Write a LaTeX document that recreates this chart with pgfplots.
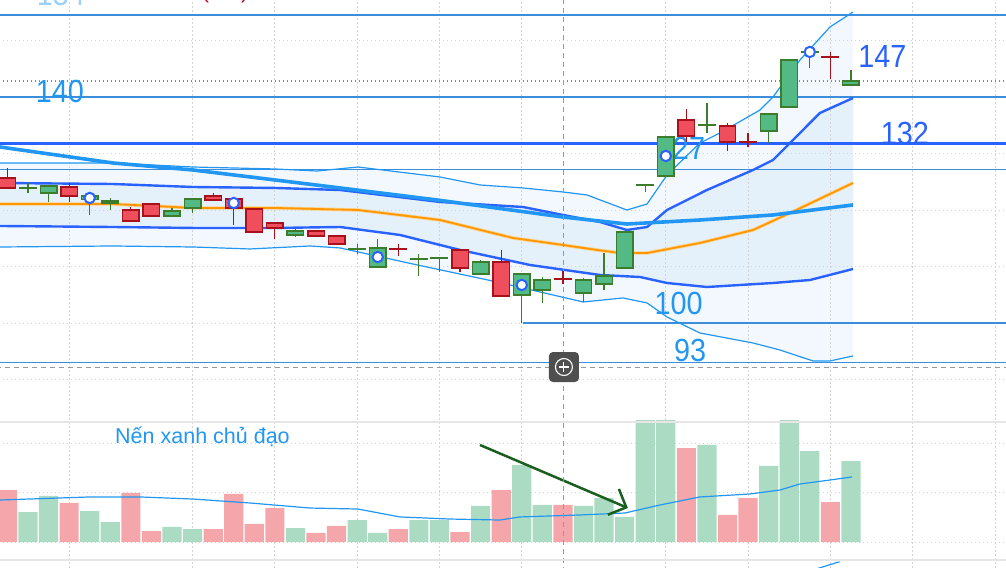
\documentclass[border=0pt]{standalone}
\usepackage{pgfplots}
\pgfplotsset{compat=1.18}
\usepackage{pgfplotstable}
\usepgfplotslibrary{fillbetween}
\usetikzlibrary{arrows.meta}
\usepackage{fontspec}
\setmainfont{Liberation Sans}
\usepackage{graphicx}

\definecolor{gfill}{HTML}{53B985}
\definecolor{gline}{HTML}{3B7D2B}
\definecolor{rfill}{HTML}{EF4F5C}
\definecolor{rline}{HTML}{A8101C}
\definecolor{vgreen}{HTML}{ABDCC3}
\definecolor{vred}{HTML}{F5A6AB}
\definecolor{lblue}{HTML}{2196F3}
\definecolor{dblue}{HTML}{2962FF}
\definecolor{hline}{HTML}{3A8EDB}
\definecolor{bandout}{HTML}{F2F8FD}
\definecolor{bandin}{HTML}{E4F1FB}
\definecolor{orng}{HTML}{FF9800}
\definecolor{gridc}{HTML}{D3D3D3}
\definecolor{crossc}{HTML}{9598A1}
\definecolor{sepc}{HTML}{E6E6E6}
\definecolor{arrowg}{HTML}{1B5E20}
\definecolor{btngray}{HTML}{4F4F4F}
\definecolor{pricegreen}{HTML}{3DB57A}

\pgfplotsset{
  gwick/.style={color=gline, line width=1.2bp},
  rwick/.style={color=rline, line width=1.2bp},
  gbody/.style={fill=gfill, draw=gline, line width=1.5bp},
  rbody/.style={fill=rfill, draw=rline, line width=1.5bp},
  gridl/.style={color=gridc, line width=0.9bp, dash pattern=on 1.5bp off 2.5bp},
  lvl/.style={color=hline, line width=1.2bp},
  crossl/.style={color=crossc, line width=1bp, dash pattern=on 5bp off 4bp},
}

\newcommand{\cndl}[6]{%
  \pgfmathsetmacro{\cxl}{#2-0.4}%
  \pgfmathsetmacro{\cxr}{#2+0.4}%
  \edef\cndlcmd{\noexpand\addplot[#1wick] coordinates {(#2,#5) (#2,#4)};
    \noexpand\addplot[#1body] coordinates {(\cxl,#3) (\cxr,#3) (\cxr,#6) (\cxl,#6)} -- cycle;}%
  \cndlcmd}

\newcommand{\lvltext}[1]{\fontsize{32bp}{36bp}\selectfont\scalebox{0.9}[1]{#1}}

% Bollinger / channel lines (x = candle index, y = price)
\pgfplotstableread{
x y
-0.36 128.32
5.13 128.32
9.02 127.61
13.01 127.26
15.05 126.90
17.04 127.61
21.03 125.84
22.97 124.43
25.06 123.90
27.00 123.19
28.17 122.66
30.11 120.00
31.09 121.06
32.06 126.20
33.66 131.86
34.63 133.63
36.58 137.70
37.21 140.00
38.52 146.55
39.98 152.39
41.10 155.04
}\tOU
\pgfplotstableread{
x y
-0.36 124.78
5.13 124.60
9.02 124.07
13.01 123.90
16.17 123.54
21.03 121.42
25.06 120.53
27.00 119.12
28.80 117.88
30.11 116.46
31.09 116.99
32.06 120.00
34.00 123.54
36.24 127.08
37.21 128.85
38.04 131.86
39.49 137.17
41.10 139.82
}\tIU
\pgfplotstableread{
x y
-0.36 131.15
5.13 128.32
9.02 127.08
13.01 125.31
16.17 123.90
20.88 121.77
27.00 118.76
30.11 117.52
33.66 118.23
37.21 119.12
41.10 120.89
}\tLM
\pgfplotstableread{
x y
-0.36 121.06
5.13 121.06
9.02 120.36
13.01 120.36
17.04 120.00
21.03 118.23
24.57 115.05
27.00 113.81
28.66 112.92
29.77 112.39
31.09 112.39
33.66 114.16
36.24 116.46
38.04 119.47
41.10 124.78
}\tOR
\pgfplotstableread{
x y
-0.36 117.17
5.13 116.99
9.02 116.82
13.01 116.82
16.17 116.99
19.08 115.58
22.00 112.92
25.40 110.27
28.80 108.50
30.75 108.14
32.06 107.08
34.00 106.37
37.21 107.08
39.01 107.61
41.10 109.56
}\tIL
\pgfplotstableread{
x y
-0.36 113.45
5.13 113.63
9.02 113.45
11.79 113.10
14.71 113.63
16.17 113.28
19.71 110.44
23.80 107.26
27.98 103.72
29.92 104.43
31.09 103.54
32.06 101.06
33.66 98.23
36.24 96.46
37.55 95.22
39.16 93.28
39.98 93.28
41.10 94.16
}\tOL
% volume
\pgfplotstableread{
x v
1 3.03
2 4.65
4 3.13
5 2.02
8 1.52
9 1.31
14 1.41
17 2.22
18 0.91
20 2.22
21 2.22
23 3.64
25 7.78
26 3.74
28 3.64
29 4.44
30 2.53
31 12.3
32 12.3
34 9.80
37 7.68
38 12.3
39 9.19
41 8.18
}\tVG
\pgfplotstableread{
x v
0 5.25
3 3.94
6 4.95
7 1.11
10 1.31
11 4.85
12 1.82
13 3.43
15 0.91
16 1.62
19 1.31
22 1.01
24 5.25
27 3.74
33 9.49
35 2.73
36 4.44
40 4.04
}\tVR
\pgfplotstableread{
x v
-0.36 4.24
4.01 4.55
6.44 4.55
9.02 4.34
11.79 3.94
14.71 3.43
17.04 3.33
19.08 2.53
21.51 2.32
23.94 2.22
24.91 2.53
27.83 2.73
30.02 2.93
31.72 3.74
33.66 4.55
36.09 4.85
37.55 5.25
38.52 5.86
39.98 6.26
41.05 6.57
}\tVMA

\begin{document}
\begin{tikzpicture}

% ---------------- main price pane ----------------
\begin{axis}[
  at={(0,147bp)}, anchor=south west,
  scale only axis, width=1006bp, height=421bp,
  xmin=-0.36, xmax=48.535, ymin=82.655, ymax=157.168,
  hide axis,
]
\pgfplotsinvokeforeach{3,9,13,17,21,25,32,36,40,44,48}{
  \addplot[gridl] coordinates {(#1,80) (#1,160)};
}
\pgfplotsinvokeforeach{90,100,110,120,130,140,150}{
  \addplot[gridl] coordinates {(-1,#1) (50,#1)};
}
% band fills
\addplot[name path=OU, draw=none] table[x=x,y=y] {\tOU};
\addplot[name path=OL, draw=none] table[x=x,y=y] {\tOL};
\addplot[name path=IU, draw=none] table[x=x,y=y] {\tIU};
\addplot[name path=IL, draw=none] table[x=x,y=y] {\tIL};
\addplot[fill=bandout, draw=none] fill between[of=OU and OL];
\addplot[fill=bandin, draw=none] fill between[of=IU and IL];
% level lines
\addplot[lvl] coordinates {(-1,154.5) (50,154.5)};
\addplot[lvl] coordinates {(-1,140) (50,140)};
\addplot[lvl] coordinates {(-1,127.2) (50,127.2)};
\addplot[lvl] coordinates {(25.06,100) (50,100)};
\addplot[lvl] coordinates {(-1,93) (50,93)};
\addplot[color=pricegreen, line width=1.1bp, dash pattern=on 1.2bp off 2.8bp] coordinates {(-1,142.83) (50,142.83)};
% band lines
\addplot[color=lblue, line width=1.2bp] table[x=x,y=y] {\tOU};
\addplot[color=lblue, line width=1.2bp] table[x=x,y=y] {\tOL};
\addplot[color=orng!45, line width=3.4bp] table[x=x,y=y] {\tOR};
\addplot[color=orng, line width=1.8bp] table[x=x,y=y] {\tOR};
\addplot[color=dblue, line width=2.4bp] table[x=x,y=y] {\tIU};
\addplot[color=dblue, line width=2.4bp] table[x=x,y=y] {\tIL};
\addplot[color=lblue, line width=3.6bp] table[x=x,y=y] {\tLM};
\addplot[color=dblue, line width=3bp] coordinates {(-1,131.8) (50,131.8)};
% level labels
\node[text=lblue!45, inner sep=0pt] at (axis cs:2.6,158.14) {\lvltext{154}};
\node[text=rline, inner sep=0pt, anchor=base] at (axis cs:10.58,157.43) {\fontsize{21.5bp}{24bp}\selectfont (1W)};
\node[text=lblue, inner sep=0pt] at (axis cs:2.556,140.94) {\lvltext{140}};
\node[text=dblue, inner sep=0pt] at (axis cs:43.62,133.54) {\lvltext{132}};
\node[text=dblue, inner sep=0pt] at (axis cs:42.53,147.08) {\lvltext{147}};
\node[text=lblue, inner sep=0pt] at (axis cs:32.62,103.45) {\lvltext{100}};
\node[text=lblue, inner sep=0pt] at (axis cs:33.18,95.13) {\lvltext{93}};
\node[text=lblue, inner sep=0pt] at (axis cs:32.74,130.88) {\lvltext{127}};
% crosshair
\addplot[crossl] coordinates {(27.05,80) (27.05,160)};
\addplot[crossl] coordinates {(-1,92.21) (50,92.21)};
% candles: style, index, open, high, low, close
\cndl{r}{0}{125.67}{127.44}{123.90}{123.90}
\cndl{g}{1}{123.85}{124.78}{123.01}{123.95}
\cndl{g}{2}{123.01}{124.25}{121.42}{124.25}
\cndl{r}{3}{124.07}{124.78}{121.42}{122.48}
\cndl{g}{4}{121.90}{122.50}{119.12}{122.50}
\cndl{g}{5}{121.24}{122.13}{120.00}{121.59}
\cndl{r}{6}{120.00}{120.53}{118.05}{118.05}
\cndl{r}{7}{121.06}{121.06}{118.94}{118.94}
\cndl{g}{8}{118.94}{120.36}{118.94}{119.82}
\cndl{g}{9}{120.36}{121.95}{119.47}{121.95}
\cndl{r}{10}{122.48}{123.01}{121.59}{121.77}
\cndl{r}{11}{121.95}{121.95}{117.35}{120.36}
\cndl{r}{12}{120.18}{120.18}{116.11}{116.11}
\cndl{r}{13}{117.70}{117.70}{114.87}{116.82}
\cndl{g}{14}{115.58}{116.64}{115.22}{116.29}
\cndl{r}{15}{116.29}{116.29}{115.40}{115.40}
\cndl{r}{16}{115.40}{115.40}{113.98}{113.98}
\cndl{g}{17}{113.05}{113.98}{112.21}{113.15}
\cndl{g}{18}{109.91}{114.87}{109.91}{113.28}
\cndl{r}{19}{113.15}{113.98}{111.86}{113.05}
\cndl{g}{20}{111.30}{112.21}{108.32}{111.40}
\cndl{g}{21}{111.45}{111.60}{109.03}{111.60}
\cndl{r}{22}{112.92}{112.92}{109.03}{109.74}
\cndl{g}{23}{108.67}{111.15}{108.67}{110.80}
\cndl{r}{24}{110.80}{112.92}{104.60}{104.78}
\cndl{g}{25}{104.96}{108.67}{100.00}{108.67}
\cndl{g}{26}{105.84}{108.14}{103.54}{107.61}
\cndl{r}{27}{107.85}{109.21}{106.90}{107.75}
\cndl{g}{28}{105.31}{107.97}{103.72}{107.61}
\cndl{g}{29}{106.90}{112.39}{105.84}{108.32}
\cndl{g}{30}{109.74}{116.11}{109.74}{116.11}
\cndl{g}{31}{124.43}{124.50}{123.19}{124.50}
\cndl{g}{32}{126.02}{132.92}{126.02}{132.92}
\cndl{r}{33}{135.93}{137.88}{132.04}{133.10}
\cndl{g}{34}{135.00}{138.94}{133.63}{135.10}
\cndl{r}{35}{134.87}{135.40}{130.44}{132.04}
\cndl{r}{36}{132.10}{133.63}{131.15}{132.00}
\cndl{g}{37}{133.98}{137.17}{131.86}{136.99}
\cndl{g}{38}{138.23}{146.55}{138.23}{146.55}
\cndl{g}{39}{147.85}{147.97}{145.13}{147.95}
\cndl{r}{40}{147.10}{147.97}{143.19}{147.00}
\cndl{g}{41}{142.13}{144.78}{142.13}{142.83}
% signal circles
\addplot[only marks, mark=*, mark size=5.2bp, mark options={fill=white, draw=dblue, line width=2bp}]
  coordinates {(4,122.13) (11,121.24) (18,111.68) (25,106.73) (32,129.56) (39,147.97)};
% crosshair button
\node[fill=btngray, rounded corners=4bp, minimum width=30bp, minimum height=30bp, inner sep=0pt] at (axis cs:27.05,92.21) {};
\draw[white, line width=1.1bp] (axis cs:27.05,92.21) circle[radius=8.5bp];
\draw[white, line width=1.1bp] (axis cs:27.05,92.21) ++(-5bp,0bp) -- ++(10bp,0bp);
\draw[white, line width=1.1bp] (axis cs:27.05,92.21) ++(0bp,-5bp) -- ++(0bp,10bp);
\end{axis}

% ---------------- volume pane ----------------
\begin{axis}[
  at={(0,0)}, anchor=south west,
  scale only axis, width=1006bp, height=147bp,
  xmin=-0.36, xmax=48.535, ymin=-2.626, ymax=12.222,
  hide axis,
]
\pgfplotsinvokeforeach{3,9,13,17,21,25,32,36,40,44,48}{
  \addplot[gridl] coordinates {(#1,-3) (#1,13)};
}
\pgfplotsinvokeforeach{0,5,10}{
  \addplot[gridl] coordinates {(-1,#1) (50,#1)};
}
\addplot[ybar, bar width=19.2bp, bar shift=0pt, fill=vgreen, draw=none] table[x=x,y=v] {\tVG};
\addplot[ybar, bar width=19.2bp, bar shift=0pt, fill=vred, draw=none] table[x=x,y=v] {\tVR};
\addplot[color=lblue, line width=1.2bp] table[x=x,y=v] {\tVMA};
\addplot[color=arrowg, line width=2.5bp, -{Straight Barb[length=14bp,width=28bp]}] coordinates {(22.97,9.80) (30.16,3.43)};
\node[text=lblue, inner sep=0pt, anchor=base west] at (axis cs:5.23,9.90) {\fontsize{21.5bp}{24bp}\selectfont Nến xanh chủ đạo};
\addplot[crossl] coordinates {(27.05,-3) (27.05,13)};
\addplot[color=sepc, line width=1.8bp] coordinates {(-1,12.14) (50,12.14)};
\addplot[color=sepc, line width=1.8bp] coordinates {(-1,-1.82) (50,-1.82)};
\addplot[color=lblue, line width=1.2bp] coordinates {(39.35,-2.70) (40.35,-2.05) (40.45,-2.02)};
\end{axis}
\pgfresetboundingbox
\useasboundingbox (0,0) rectangle (1006bp,568bp);
\end{tikzpicture}
\end{document}
